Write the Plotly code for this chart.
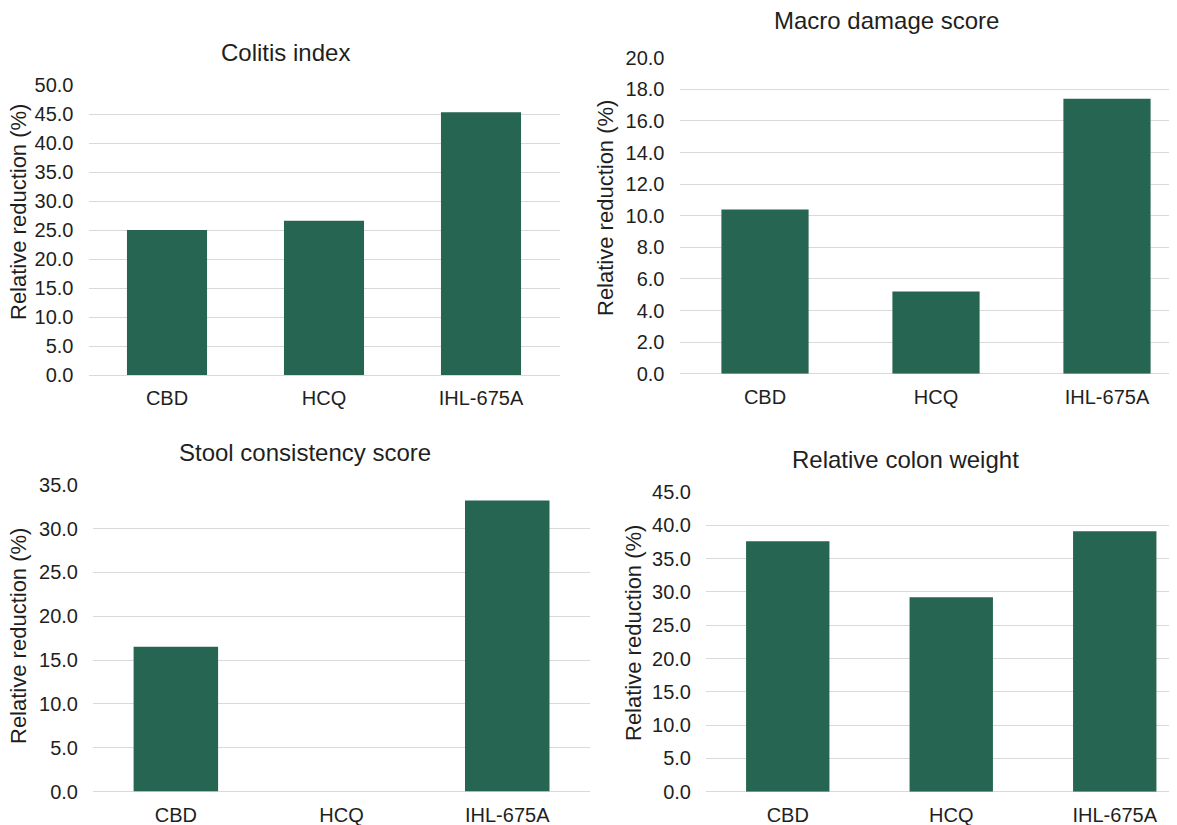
import plotly.graph_objects as go

W, H = 1177, 825
OFF = 8  # page body margin offset

categories = ["CBD", "HCQ", "IHL-675A"]
colitis_index = [25.0, 26.6, 45.3]
macro_damage = [10.4, 5.2, 17.4]
stool_consistency = [16.5, 0.0, 33.2]
colon_weight = [37.6, 29.2, 39.1]

titles = ["Colitis index", "Macro damage score", "Stool consistency score", "Relative colon weight"]
y_title = "Relative reduction (%)"
y_max = [50, 20, 35, 45]
y_dtick = [5, 2, 5, 5]

BAR = "#266551"
GRID = "#d9d9d9"
TXT = "#1f1f1f"
FONT = "Liberation Sans, Arial, sans-serif"

def px_x(x):
    return (x - OFF) / W

def px_y(y):
    return 1 - (y - OFF) / H

panels = [
    dict(l=88.5, r=559.5, t=85, b=375, step=157.0),
    dict(l=679.5, r=1177, t=57.7, b=373.7, step=171.0),
    dict(l=93, r=590, t=484.7, b=791.5, step=165.7),
    dict(l=706, r=1177, t=492, b=791.7, step=163.5),
]
title_pos = [(285, 52), (886, 21), (305, 452), (905, 459)]
ytitle_pos = [(18, 212), (605, 208), (18, 636), (633, 633)]

series = [colitis_index, macro_damage, stool_consistency, colon_weight]

fig = go.Figure()
annotations = []
for i, (vals, p) in enumerate(zip(series, panels)):
    n = "" if i == 0 else str(i + 1)
    fig.add_trace(go.Bar(
        x=categories, y=vals, marker=dict(color=BAR, line=dict(width=0)),
        width=0.51, xaxis="x" + n, yaxis="y" + n, showlegend=False,
        hoverinfo="x+y",
    ))
    x_hi = -0.5 + (p["r"] - p["l"]) / p["step"]
    fig.layout["xaxis" + n] = dict(
        domain=[px_x(p["l"]), px_x(p["r"])], anchor="y" + n,
        type="category", range=[-0.5, x_hi], automargin=False,
        showgrid=False, showline=False, zeroline=False,
        ticks="outside", ticklen=5, tickcolor="rgba(0,0,0,0)",
        tickfont=dict(family=FONT, size=20, color=TXT),
    )
    fig.layout["yaxis" + n] = dict(
        domain=[px_y(p["b"]), px_y(p["t"])], anchor="x" + n,
        range=[0, y_max[i]], dtick=y_dtick[i], tick0=0, tickformat=".1f",
        automargin=False,
        showgrid=True, gridcolor=GRID, gridwidth=1.3,
        zeroline=True, zerolinecolor=GRID, zerolinewidth=1.3,
        showline=False,
        ticks="outside", ticklen=10, tickcolor="rgba(0,0,0,0)",
        tickfont=dict(family=FONT, size=20, color=TXT),
    )
    tx, ty = title_pos[i]
    annotations.append(dict(
        text=titles[i], x=px_x(tx), y=px_y(ty), xref="paper", yref="paper",
        xanchor="center", yanchor="middle", showarrow=False,
        font=dict(family=FONT, size=24, color=TXT),
    ))
    yx, yy = ytitle_pos[i]
    annotations.append(dict(
        text=y_title, x=px_x(yx), y=px_y(yy), xref="paper", yref="paper",
        xanchor="center", yanchor="middle", showarrow=False, textangle=-90,
        font=dict(family=FONT, size=22, color=TXT),
    ))

fig.update_layout(
    width=W, height=H,
    margin=dict(l=0, r=0, t=0, b=0, autoexpand=False),
    paper_bgcolor="white", plot_bgcolor="white",
    annotations=annotations,
    bargap=0.49,
)

fig.write_html("out.html")
